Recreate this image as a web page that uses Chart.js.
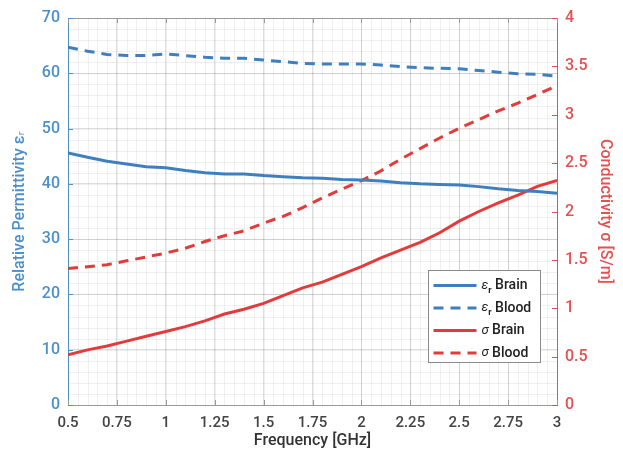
<!DOCTYPE html>
<html>
<head>
<meta charset="utf-8">
<script src="https://cdn.jsdelivr.net/npm/chart.js@4/dist/chart.umd.min.js"></script>
<style>
html,body{margin:0;padding:0;background:#fff;}
#wrap{width:623px;height:457px;}
</style>
</head>
<body>
<div id="wrap"><canvas id="c"></canvas></div>
<script>
/* ================= DATA ================= */
const freq=[0.5,0.6,0.7,0.8,0.9,1.0,1.1,1.2,1.3,1.4,1.5,1.6,1.7,1.8,1.9,2.0,2.1,2.2,2.3,2.4,2.5,2.6,2.7,2.8,2.9,3.0];
const epsBrain=[45.6,44.8,44.1,43.6,43.1,42.9,42.4,42.0,41.8,41.8,41.5,41.3,41.1,41.0,40.8,40.7,40.5,40.2,40.0,39.9,39.8,39.5,39.1,38.8,38.6,38.3];
const epsBlood=[64.7,64.0,63.4,63.2,63.2,63.5,63.2,62.9,62.7,62.7,62.4,62.1,61.8,61.7,61.7,61.7,61.5,61.2,61.0,60.9,60.8,60.5,60.2,59.9,59.8,59.5];
const sigBrain=[0.52,0.57,0.61,0.66,0.71,0.76,0.81,0.87,0.94,0.99,1.05,1.13,1.21,1.27,1.35,1.43,1.52,1.60,1.68,1.78,1.90,2.00,2.09,2.17,2.26,2.32];
const sigBlood=[1.41,1.43,1.45,1.49,1.53,1.57,1.62,1.69,1.75,1.80,1.88,1.95,2.04,2.14,2.23,2.32,2.42,2.54,2.65,2.76,2.86,2.95,3.04,3.12,3.21,3.30];

const xTicks=[0.5,0.75,1,1.25,1.5,1.75,2,2.25,2.5,2.75,3];
const leftTicks=[0,10,20,30,40,50,60,70];
const rightTicks=[0,0.5,1,1.5,2,2.5,3,3.5,4];

const legSym=['ε','ε','σ','σ'];
const legSub=['r','r','',''];
const legName=['Brain','Blood','Brain','Blood'];

const BLUE='#3f7fbf',RED='#e33b3b';
const AXBLUE='#4d8fca',AXRED='#e65050';
const FONT='Roboto, "DejaVu Sans", sans-serif';

const pts=(ys)=>freq.map((f,i)=>({x:f,y:ys[i]}));

/* ================= PLUGINS ================= */
// minor grid (under major grid)
const minorGrid={
id:'minorGrid',
beforeDraw(chart){
const {ctx,chartArea:a,scales:{x,y}}=chart;
ctx.save();
ctx.strokeStyle='rgba(0,0,0,0.06)';
ctx.lineWidth=1;
for(let v=0.5;v<=3.0001;v+=0.05){
const px=Math.round(x.getPixelForValue(v))+0.5;
ctx.beginPath();ctx.moveTo(px,a.top);ctx.lineTo(px,a.bottom);ctx.stroke();
}
for(let v=0;v<=70.001;v+=2){
const py=Math.round(y.getPixelForValue(v))+0.5;
ctx.beginPath();ctx.moveTo(a.left,py);ctx.lineTo(a.right,py);ctx.stroke();
}
ctx.restore();
}
};

// inward ticks + top border + legend box
const decor={
id:'decor',
afterDraw(chart){
const {ctx,chartArea:a,scales:{x,y,y1}}=chart;
ctx.save();
ctx.lineWidth=1;
ctx.strokeStyle='#9a9a9a';
ctx.beginPath();ctx.moveTo(a.left,a.top+0.5);ctx.lineTo(a.right,a.top+0.5);ctx.stroke();
xTicks.forEach(v=>{
const px=Math.round(x.getPixelForValue(v))+0.5;
ctx.beginPath();ctx.moveTo(px,a.bottom);ctx.lineTo(px,a.bottom-5);ctx.stroke();
ctx.beginPath();ctx.moveTo(px,a.top);ctx.lineTo(px,a.top+5);ctx.stroke();
});
ctx.strokeStyle=AXBLUE;
leftTicks.forEach(v=>{
const py=Math.round(y.getPixelForValue(v))+0.5;
ctx.beginPath();ctx.moveTo(a.left,py);ctx.lineTo(a.left+5,py);ctx.stroke();
});
ctx.strokeStyle=AXRED;
rightTicks.forEach(v=>{
const py=Math.round(y1.getPixelForValue(v))+0.5;
ctx.beginPath();ctx.moveTo(a.right,py);ctx.lineTo(a.right-5,py);ctx.stroke();
});

// legend
const bx=428.5,by=270.5,bw=112,bh=92;
ctx.fillStyle='#fff';
ctx.fillRect(bx,by,bw,bh);
ctx.strokeStyle='#8a8a8a';
ctx.strokeRect(bx,by,bw,bh);
chart.data.datasets.forEach((ds,i)=>{
const ly=by+15+i*22.5;
ctx.strokeStyle=ds.borderColor;
ctx.lineWidth=3;
ctx.setLineDash(ds.borderDash||[]);
ctx.beginPath();ctx.moveTo(bx+5,ly);ctx.lineTo(bx+48,ly);ctx.stroke();
ctx.setLineDash([]);
ctx.fillStyle='#222';
ctx.textBaseline='middle';
let tx=bx+53;
ctx.font='italic 13px '+FONT;
ctx.fillText(legSym[i],tx,ly);
tx+=ctx.measureText(legSym[i]).width;
if(legSub[i]){
ctx.font='bold 9px '+FONT;
ctx.fillText(legSub[i],tx,ly+5);
tx+=ctx.measureText(legSub[i]).width;
}
ctx.font='500 14px '+FONT;
ctx.fillText(' '+legName[i],tx,ly);
});
ctx.restore();
}
};

/* ================= CHART ================= */
new Chart(document.getElementById('c'),{
type:'line',
data:{
datasets:[
{label:'εr Brain',data:pts(epsBrain),yAxisID:'y',borderColor:BLUE,borderWidth:3,pointRadius:0,tension:0},
{label:'εr Blood',data:pts(epsBlood),yAxisID:'y',borderColor:BLUE,borderWidth:3,borderDash:[10,7],pointRadius:0,tension:0},
{label:'σ Brain',data:pts(sigBrain),yAxisID:'y1',borderColor:RED,borderWidth:3,pointRadius:0,tension:0},
{label:'σ Blood',data:pts(sigBlood),yAxisID:'y1',borderColor:RED,borderWidth:3,borderDash:[10,7],pointRadius:0,tension:0}
]
},
options:{
responsive:true,
maintainAspectRatio:false,
animation:false,
layout:{padding:{top:18,left:0,right:0,bottom:0}},
plugins:{legend:{display:false},tooltip:{enabled:false}},
scales:{
x:{
type:'linear',min:0.5,max:3,
afterBuildTicks:s=>{s.ticks=xTicks.map(v=>({value:v}));},
afterFit:s=>{s.height=52;},
grid:{color:'rgba(0,0,0,0.13)',drawTicks:false},
border:{color:'#9a9a9a'},
ticks:{padding:9,maxRotation:0,color:'#444',font:{family:FONT,size:15,weight:'500'},callback:v=>String(+v.toFixed(2))},
title:{display:true,text:'Frequency [GHz]',color:'#333',font:{family:FONT,size:16,weight:'500'},padding:{top:0,bottom:6}}
},
y:{
position:'left',min:0,max:70,
afterBuildTicks:s=>{s.ticks=leftTicks.map(v=>({value:v}));},
afterFit:s=>{s.width=68;},
grid:{color:'rgba(0,0,0,0.13)',drawTicks:false},
border:{color:AXBLUE},
ticks:{padding:8,color:AXBLUE,font:{family:FONT,size:16,weight:'500'}},
title:{display:true,text:'Relative Permittivity εᵣ',color:AXBLUE,font:{family:FONT,size:16,weight:'500'},padding:{top:10,bottom:0}}
},
y1:{
position:'right',min:0,max:4,
afterBuildTicks:s=>{s.ticks=rightTicks.map(v=>({value:v}));},
afterFit:s=>{s.width=66;},
grid:{display:false,drawTicks:false},
border:{color:AXRED},
ticks:{padding:8,color:AXRED,font:{family:FONT,size:16,weight:'500'},callback:v=>String(v)},
title:{display:true,text:'Conductivity σ [S/m]',color:AXRED,font:{family:FONT,size:16,weight:'500'},padding:{top:8,bottom:0}}
}
}
},
plugins:[minorGrid,decor]
});
</script>
</body>
</html>
